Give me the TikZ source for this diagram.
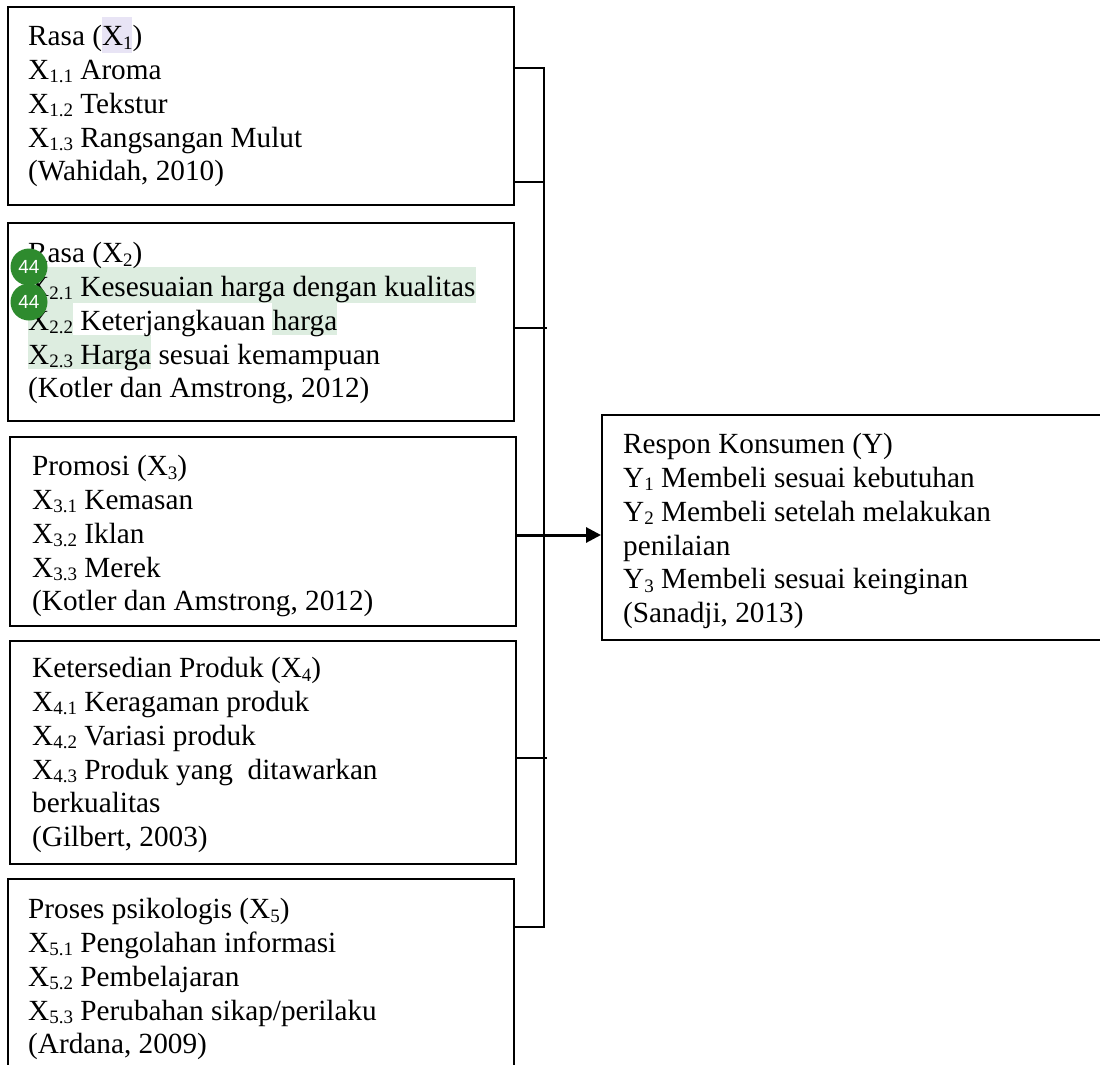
\documentclass[tikz,border=0pt]{standalone}
\usepackage{fontspec}
\setmainfont{Liberation Serif}
\newfontfamily\badgefont{Liberation Sans}
\usetikzlibrary{arrows.meta}
\definecolor{hlgreen}{HTML}{DDEDE0}
\definecolor{hlpurple}{HTML}{E8E4F5}
\definecolor{badgegreen}{HTML}{2E8B2E}
\newcommand{\sbs}[1]{\raisebox{-3.6pt}{\fontsize{19}{19}\selectfont #1}}
\tikzset{
  x=1pt,y=-1pt,
  boxframe/.style={draw=black,line width=2pt,fill=none,inner sep=0pt},
  txt/.style={anchor=north west,inner sep=0pt,align=left,font=\fontsize{29.25}{33.85}\selectfont},
  link/.style={draw=black,line width=2pt},
  hl/.style={fill=hlgreen,draw=none},
  badge/.style={circle,fill=badgegreen,draw=none,minimum size=37pt,inner sep=0pt,text=white,font=\badgefont\fontsize{19}{19}\selectfont},
}
\begin{document}
\begin{tikzpicture}
\useasboundingbox (0,0) rectangle (1100,1065);
\clip (0,0) rectangle (1100,1065);
\fill[white] (0,0) rectangle (1100,1065);
% highlights
\fill[hlpurple] (102,17) rectangle (132,53);
\fill[hl] (28,267) rectangle (476,303);
\fill[hl] (28,303) rectangle (73,335);
\fill[hl] (272,302) rectangle (337,335);
\fill[hl] (28,335) rectangle (151,369);
% boxes
\node[boxframe,minimum width=506pt,minimum height=198pt] (b1box) at (261,106) {};
\node[boxframe,minimum width=506pt,minimum height=198pt] (b2box) at (261,322) {};
\node[boxframe,minimum width=506pt,minimum height=189pt] (b3box) at (263,531.5) {};
\node[boxframe,minimum width=506pt,minimum height=223pt] (b4box) at (263,752.5) {};
\node[boxframe,minimum width=506pt,minimum height=240pt] (b5box) at (261,999) {};
\node[boxframe,minimum width=540pt,minimum height=225pt] (ybox) at (872,527.5) {};
% texts
\node[txt] (t1) at (28,25) {Rasa (X\sbs{1})\\X\sbs{1.1} Aroma\\X\sbs{1.2} Tekstur\\X\sbs{1.3} Rangsangan Mulut\\(Wahidah, 2010)};
\node[txt] (t2) at (28,242) {Rasa (X\sbs{2})\\X\sbs{2.1} Kesesuaian harga dengan kualitas\\X\sbs{2.2} Keterjangkauan harga\\X\sbs{2.3} Harga sesuai kemampuan\\(Kotler dan Amstrong, 2012)};
\node[txt] (t3) at (32,455) {Promosi (X\sbs{3})\\X\sbs{3.1} Kemasan\\X\sbs{3.2} Iklan\\X\sbs{3.3} Merek\\(Kotler dan Amstrong, 2012)};
\node[txt] (t4) at (32,657) {Ketersedian Produk (X\sbs{4})\\X\sbs{4.1} Keragaman produk\\X\sbs{4.2} Variasi produk\\X\sbs{4.3} Produk yang\ \ ditawarkan\\berkualitas\\(Gilbert, 2003)};
\node[txt] (t5) at (28,898) {Proses psikologis (X\sbs{5})\\X\sbs{5.1} Pengolahan informasi\\X\sbs{5.2} Pembelajaran\\X\sbs{5.3} Perubahan sikap/perilaku\\(Ardana, 2009)};
\node[txt] (ty) at (623,433) {Respon Konsumen (Y)\\Y\sbs{1} Membeli sesuai kebutuhan\\Y\sbs{2} Membeli setelah melakukan\\penilaian\\Y\sbs{3} Membeli sesuai keinginan\\(Sanadji, 2013)};
% connectors
\coordinate (trunktop) at (544,68);
\coordinate (trunkbot) at (544,927);
\draw[link] (b1box.east |- trunktop) -- (trunktop) -- (trunkbot) -- (b5box.east |- trunkbot);
\draw[link] (b1box.east |- 0,182) -- (trunktop |- 0,182);
\draw[link,line width=1.3pt] (b2box.east |- 0,328) -- (547,328);
\draw[link,line width=1.3pt] (b4box.east |- 0,758) -- (547,758);
\draw[link,line width=3pt,-{Triangle[length=15pt,width=15pt]}] (b3box.east |- 0,535) -- (ybox.west |- 0,535);
% badges
\node[badge] (bd1) at (29,267) {44};
\node[badge] (bd2) at (29,302) {44};
\end{tikzpicture}
\end{document}
